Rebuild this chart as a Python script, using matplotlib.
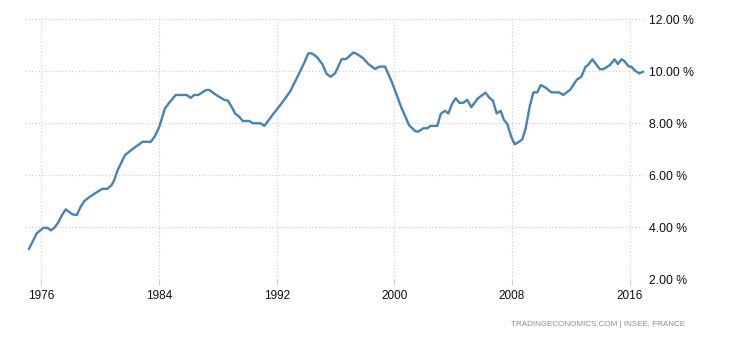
import matplotlib
matplotlib.use("Agg")
import matplotlib.pyplot as plt

# France unemployment rate (%) (decimal years)
years = [
    1975.16, 1975.69, 1976.14, 1976.41, 1976.66, 1976.88, 1977.11, 1977.41, 1977.66,
    1978.11, 1978.41, 1978.68, 1978.92, 1979.31, 1979.77, 1980.15, 1980.49, 1980.79,
    1980.96, 1981.19, 1981.69, 1982.32, 1982.89, 1983.44, 1983.73, 1984.02, 1984.41,
    1984.75, 1985.14, 1985.88, 1986.16, 1986.40, 1986.67, 1987.20, 1987.42, 1987.97,
    1988.44, 1988.67, 1988.90, 1989.17, 1989.46, 1989.69, 1990.14, 1990.37, 1990.91,
    1991.16, 1991.77, 1992.34, 1992.91, 1993.36, 1993.86, 1994.15, 1994.38, 1994.72,
    1995.10, 1995.40, 1995.67, 1995.97, 1996.42, 1996.71, 1997.21, 1997.44, 1997.89,
    1998.23, 1998.69, 1998.98, 1999.37, 1999.82, 2000.16, 2000.43, 2000.73, 2001.00,
    2001.41, 2001.63, 2001.97, 2002.24, 2002.47, 2002.92, 2003.15, 2003.44, 2003.67,
    2003.94, 2004.17, 2004.42, 2004.69, 2004.96, 2005.23, 2005.68, 2006.20, 2006.43,
    2006.70, 2006.96, 2007.23, 2007.45, 2007.68, 2007.96, 2008.18, 2008.48, 2008.70,
    2008.93, 2009.20, 2009.45, 2009.72, 2009.95, 2010.29, 2010.67, 2011.19, 2011.49,
    2011.97, 2012.39, 2012.71, 2013.00, 2013.16, 2013.46, 2013.97, 2014.20, 2014.65,
    2014.97, 2015.20, 2015.43, 2015.61, 2015.95, 2016.10, 2016.37, 2016.65, 2016.90,
]
rates = [
    3.17, 3.77, 3.98, 3.98, 3.88, 3.98, 4.15, 4.47, 4.69,
    4.50, 4.47, 4.79, 5.01, 5.18, 5.35, 5.48, 5.48, 5.63,
    5.82, 6.20, 6.78, 7.06, 7.29, 7.29, 7.51, 7.87, 8.58,
    8.83, 9.09, 9.09, 8.98, 9.09, 9.09, 9.28, 9.28, 9.06,
    8.90, 8.88, 8.67, 8.38, 8.25, 8.09, 8.09, 8.00, 8.00,
    7.90, 8.36, 8.77, 9.22, 9.73, 10.31, 10.69, 10.69, 10.56,
    10.28, 9.90, 9.79, 9.92, 10.47, 10.47, 10.72, 10.67, 10.50,
    10.28, 10.09, 10.18, 10.18, 9.60, 9.09, 8.67, 8.28, 7.93,
    7.70, 7.68, 7.81, 7.81, 7.90, 7.90, 8.36, 8.48, 8.38,
    8.77, 8.96, 8.79, 8.79, 8.90, 8.62, 8.96, 9.18, 9.00,
    8.87, 8.38, 8.48, 8.13, 7.97, 7.46, 7.19, 7.29, 7.38,
    7.81, 8.64, 9.19, 9.19, 9.47, 9.37, 9.19, 9.19, 9.09,
    9.30, 9.67, 9.79, 10.18, 10.24, 10.46, 10.08, 10.08, 10.24,
    10.46, 10.28, 10.46, 10.41, 10.18, 10.18, 10.02, 9.92, 9.98,
]
xticks = [1976, 1984, 1992, 2000, 2008, 2016]
yticks = [2, 4, 6, 8, 10, 12]

fig = plt.figure(figsize=(7.3, 3.4), dpi=100)
ax = fig.add_axes([25 / 730, 60.7 / 340, 620 / 730, 260 / 340])

ax.plot(years, rates, color="#4682b4", linewidth=1.7, solid_joinstyle="round")

ax.set_xlim(1974.89, 2017.04)
ax.set_ylim(2, 12)
ax.set_xticks(xticks)
ax.set_xticklabels([str(y) for y in xticks])
ax.set_yticks(yticks)
ax.set_yticklabels([f"{y:.2f} %" for y in yticks])

ax.yaxis.tick_right()
ax.grid(True, color="#cccccc", linestyle=(0, (1, 2)), linewidth=0.8)
for s in ax.spines.values():
    s.set_visible(False)

ax.tick_params(axis="x", length=4, width=0.8, color="#cccccc", pad=4,
               labelsize=8.5, labelcolor="#111111")
ax.tick_params(axis="y", length=0, pad=3, labelsize=8.8, labelcolor="#111111")
for lab in ax.get_xticklabels() + ax.get_yticklabels():
    lab.set_family("Liberation Sans")

fig.text(685 / 730, 1 - 325 / 340, "TRADINGECONOMICS.COM | INSEE, FRANCE",
         ha="right", va="center", fontsize=5.8, color="#8c8c8c",
         family="Liberation Sans")

fig.savefig("out.png", dpi=100)
plt.close(fig)
